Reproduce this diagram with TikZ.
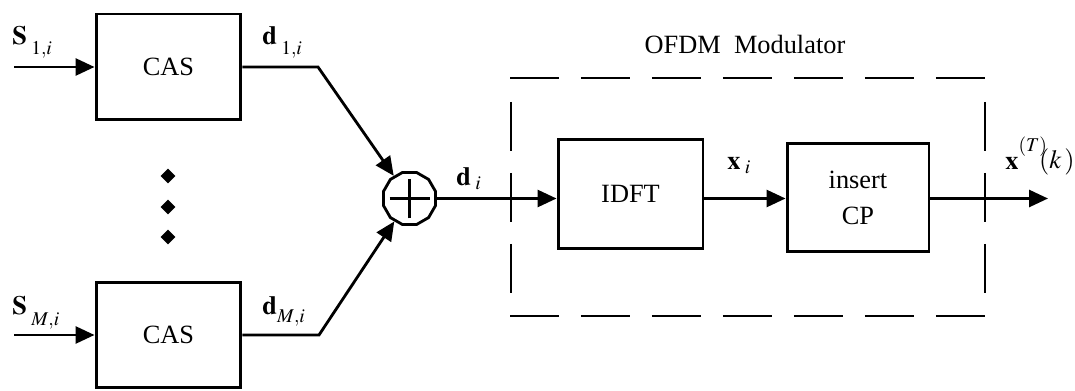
\documentclass[tikz,border=0pt]{standalone}
\usepackage{mathptmx}
\usepackage{fontspec}
\setmainfont{Liberation Serif}
\usepackage{tikz}
\usetikzlibrary{arrows.meta, shapes.geometric}

\begin{document}
\begin{tikzpicture}[
    x=0.02cm, y=-0.02cm,
    font=\fontsize{15}{17.5}\selectfont,
    block/.style={
        draw,
        minimum width=2.9cm,
        minimum height=2.12cm,
        align=center,
        inner sep=0pt,
        line width=1.7pt
    },
    arrow/.style={
        -{Triangle[length=0.38cm, width=0.34cm]},
        line width=1.6pt
    },
    lbl/.style={anchor=base west, inner sep=0pt},
    frame/.style={line width=1.6pt, dash pattern=on 0.98cm off 0.44cm},
    dotmark/.style={diamond, fill, inner sep=0pt, minimum size=0.3cm}
]
\useasboundingbox (0,0) rectangle (1075,391);

\node[block] (cas1) at (168.5,67) {CAS};

\node[block] (casM) at (168.5,335) {CAS};

\foreach \y [count=\k] in {176,207,237}
    \node[dotmark] (dot\k) at (168,\y) {};

\node[draw, regular polygon, regular polygon sides=12, minimum size=1.08cm,
      inner sep=0pt, line width=1.6pt] (sum) at (409.5,198.5) {};

\node[block, minimum height=2.2cm] (idft) at (630.5,194) {IDFT};

\node[block, minimum width=2.84cm, minimum height=2.18cm] (cp) at (858,197.5) {insert\\[3pt]CP};

\coordinate (in1) at (14,67);
\coordinate (inM) at (14,335);
\coordinate (bend1) at (318,67);
\coordinate (bendM) at (319,335);
\coordinate (out) at (1048,198.5);

\draw[arrow] (in1) -- (cas1);
\draw[arrow] (inM) -- (casM);
\draw[arrow] (cas1) -- (bend1) -- (sum);
\draw[arrow] (casM) -- (bendM) -- (sum);
\draw[line width=1.6pt] ([xshift=-0.4cm]sum.center) -- ([xshift=0.4cm]sum.center);
\draw[line width=1.6pt] ([yshift=-0.4cm]sum.center) -- ([yshift=0.4cm]sum.center);
\draw[arrow] (sum) -- (sum -| idft.west);
\draw[arrow] (idft.east |- sum) -- (cp.west |- sum);
\draw[arrow] (cp.east |- sum) -- (out);

\draw[frame] (510,78) -- (986,78);
\draw[frame] (510,316) -- (986,316);
\draw[frame] (511,102) -- (511,293);
\draw[frame] (985,102) -- (985,293);

\node[lbl] (s1lab) at (12,45) {$\mathbf{S}_{\;\raisebox{-3pt}{$\scriptstyle 1,i$}}$};
\node[lbl] (sMlab) at (12,315) {$\mathbf{S}_{\;\raisebox{-4pt}{$\scriptstyle M,i$}}$};
\node[lbl] (d1lab) at (262,45) {$\mathbf{d}_{\;\raisebox{-3pt}{$\scriptstyle 1,i$}}$};
\node[lbl] (dMlab) at (262,315) {$\mathbf{d}_{\raisebox{-2pt}{$\scriptstyle M,i$}}$};
\node[lbl] (dlab) at (456,186) {$\mathbf{d}_{\;i}$};
\node[lbl] (xlab) at (727,170) {$\mathbf{x}_{\;i}$};
\node[lbl] (xTlab) at (1005,170) {$\mathbf{x}^{\raisebox{5pt}{$\scriptstyle(T)$}}\kern-5pt\raisebox{1pt}{$(k\,)$}$};
\node[anchor=base] (modlab) at (745,54) {OFDM\ \ Modulator};

\end{tikzpicture}
\end{document}
